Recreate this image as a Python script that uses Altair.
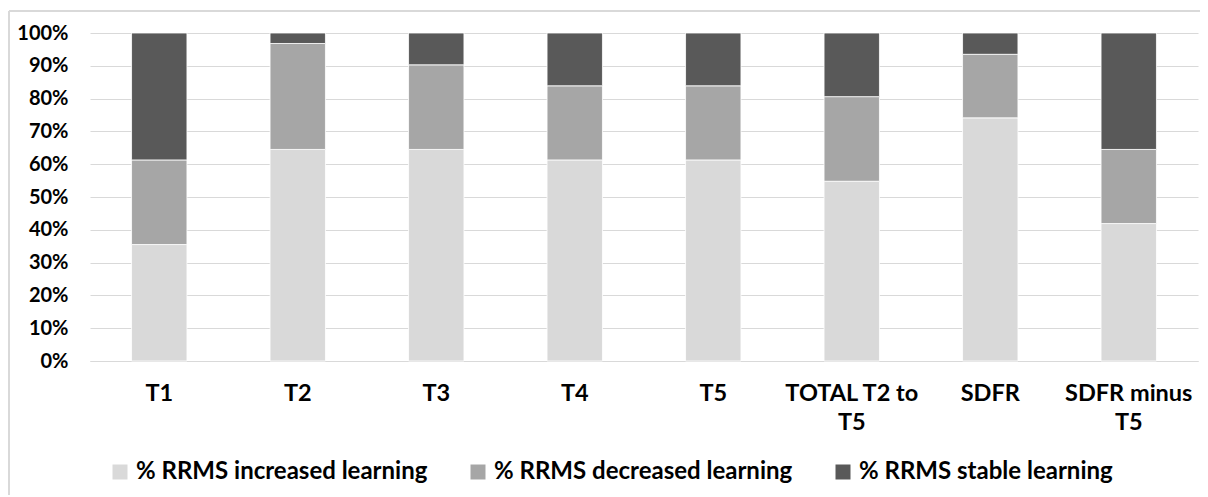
import altair as alt
import pandas as pd

categories = ["T1", "T2", "T3", "T4", "T5", "TOTAL T2 to T5", "SDFR", "SDFR minus T5"]
increased = [35.5, 64.5, 64.5, 61.3, 61.3, 54.8, 74.2, 41.9]
decreased = [25.8, 32.3, 25.8, 22.6, 22.6, 25.8, 19.4, 22.6]
stable = [38.7, 3.2, 9.7, 16.1, 16.1, 19.4, 6.5, 35.5]
series = ["% RRMS increased learning", "% RRMS decreased learning", "% RRMS stable learning"]
colors = ["#D9D9D9", "#A6A6A6", "#595959"]
y_ticks = [0, 0.1, 0.2, 0.3, 0.4, 0.5, 0.6, 0.7, 0.8, 0.9, 1.0]

rows = []
for i, c in enumerate(categories):
    for k, (s, vals) in enumerate(zip(series, [increased, decreased, stable])):
        rows.append({"category": c, "series": s, "value": vals[i], "ord": k})
df = pd.DataFrame(rows)

FONT = "Lato, Roboto, Liberation Sans, sans-serif"

label_expr = ("datum.label == 'TOTAL T2 to T5' ? ['TOTAL T2 to', 'T5'] : "
              "datum.label == 'SDFR minus T5' ? ['SDFR minus', 'T5'] : datum.label")

bars = alt.Chart(df).mark_bar(stroke="white", strokeWidth=0.8).encode(
    x=alt.X(
        "category:N",
        sort=categories,
        scale=alt.Scale(paddingInner=0.6, paddingOuter=0.3),
        axis=alt.Axis(
            title=None, labelAngle=0, labelExpr=label_expr, ticks=False,
            domain=True, domainColor="#D9D9D9", domainWidth=1,
            labelFont=FONT, labelFontSize=23.5, labelFontWeight="bold",
            labelColor="#000000", labelPadding=20, labelLineHeight=29,
            labelBaseline="top",
        ),
    ),
    y=alt.Y(
        "value:Q",
        stack="normalize",
        scale=alt.Scale(domain=[0, 1]),
        axis=alt.Axis(
            title=None, format=".0%", values=y_ticks, ticks=False, domain=False,
            grid=True, gridColor="#D9D9D9", gridWidth=1,
            labelFont=FONT, labelFontSize=20, labelFontWeight="bold",
            labelColor="#000000", labelPadding=22,
        ),
    ),
    color=alt.Color(
        "series:N",
        sort=series,
        scale=alt.Scale(domain=series, range=colors),
        legend=alt.Legend(
            title=None, orient="none", direction="horizontal", columns=3,
            legendX=18, legendY=427, symbolType="square", symbolSize=225,
            symbolStrokeWidth=0, labelFont=FONT, labelFontSize=24,
            labelFontWeight="bold", labelColor="#000000", columnPadding=38,
            labelOffset=4, labelLimit=500,
        ),
    ),
    order=alt.Order("ord:Q", sort="ascending"),
)

frame_df = pd.DataFrame({"k": [0]})
left_edge = alt.Chart(frame_df).mark_rule(color="#D9D9D9", strokeWidth=2).encode(
    x=alt.value(-81), y=alt.value(-22), y2=alt.value(470)
)
top_edge = alt.Chart(frame_df).mark_rule(color="#D9D9D9", strokeWidth=2).encode(
    x=alt.value(-81), x2=alt.value(1112), y=alt.value(-22)
)

chart = alt.layer(bars, left_edge, top_edge).properties(
    width=1108,
    height=328,
    autosize=alt.AutoSizeParams(type="none"),
    padding={"left": 82, "top": 25, "right": 2, "bottom": 134},
).configure_view(stroke=None)

chart.save("out.html", embed_options={"renderer": "svg", "actions": False})
